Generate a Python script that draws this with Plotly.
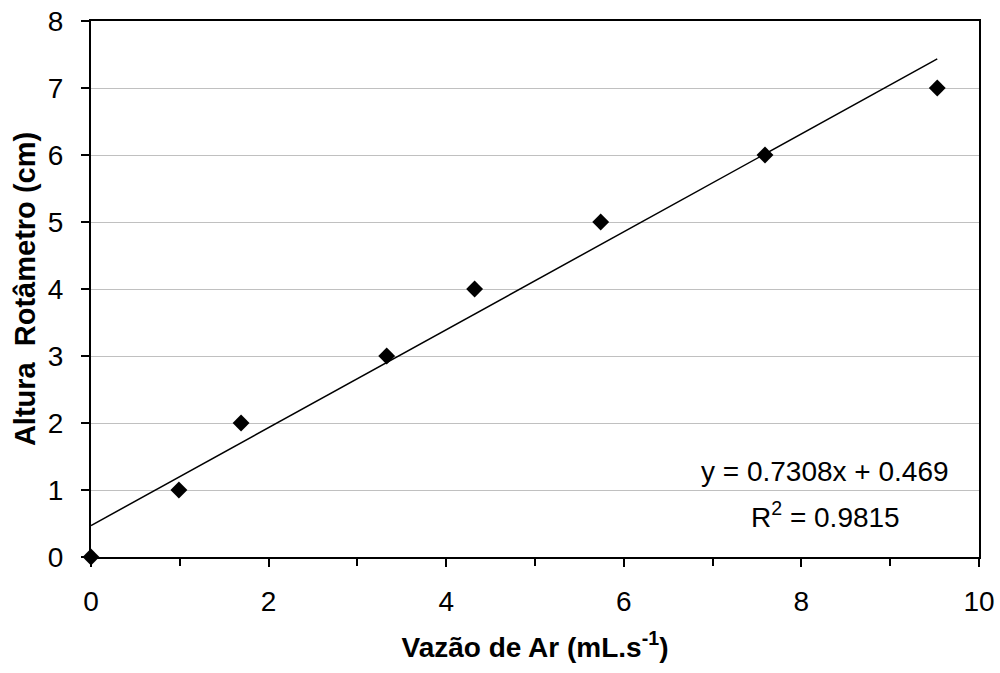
import plotly.graph_objects as go

vazao = [0.0, 0.99, 1.69, 3.33, 4.32, 5.74, 7.59, 9.53]
altura = [0, 1, 2, 3, 4, 5, 6, 7]
slope = 0.7308
intercept = 0.469
eq_text = "y = 0.7308x + 0.469"
r2_text = "R<sup>2</sup> = 0.9815"
x_ticks = [0, 2, 4, 6, 8, 10]
y_ticks = [0, 1, 2, 3, 4, 5, 6, 7, 8]

FONT = "Liberation Sans, Arial, sans-serif"
FS = 28

trend_x = [0, max(vazao)]
trend_y = [slope * v + intercept for v in trend_x]

fig = go.Figure()
fig.add_trace(go.Scatter(x=trend_x, y=trend_y, mode="lines",
                         line=dict(color="black", width=1.5), showlegend=False,
                         cliponaxis=False))
fig.add_trace(go.Scatter(x=vazao, y=altura, mode="markers",
                         marker=dict(symbol="diamond", size=13, color="black"),
                         showlegend=False, cliponaxis=False))

fig.add_annotation(x=8.27, y=1.27, xref="x", yref="y", text=eq_text, showarrow=False,
                   font=dict(family=FONT, size=FS, color="black"), xanchor="center", yanchor="middle")
fig.add_annotation(x=8.27, y=0.63, xref="x", yref="y", text=r2_text, showarrow=False,
                   font=dict(family=FONT, size=FS, color="black"), xanchor="center", yanchor="middle")

fig.update_layout(
    width=1000, height=673,
    margin=dict(l=91, r=21, t=21, b=116),
    paper_bgcolor="white", plot_bgcolor="white",
    font=dict(family=FONT, color="black"),
)
fig.update_xaxes(range=[0, 10], tickvals=x_ticks, showgrid=False, zeroline=False,
                 showline=True, linecolor="black", linewidth=2, mirror=True,
                 ticks="outside", ticklen=8, tickwidth=1.5, tickcolor="black",
                 tickfont=dict(size=FS, family=FONT), ticklabelstandoff=10, automargin=False,
                 minor=dict(dtick=1, ticks="outside", ticklen=7, tickwidth=1.5, tickcolor="black", showgrid=False),
                 title=dict(text="<b>Vazão de Ar (mL.s<sup>-1</sup>)</b>", font=dict(size=FS, family=FONT), standoff=22))
fig.update_yaxes(range=[0, 8], tickvals=y_ticks, showgrid=True, gridcolor="#c0c0c0", gridwidth=1,
                 zeroline=False, showline=True, linecolor="black", linewidth=2, mirror=True,
                 ticks="outside", ticklen=8, tickwidth=1.5, tickcolor="black",
                 tickfont=dict(size=FS, family=FONT), ticklabelstandoff=12, automargin=False,
                 title=dict(text="<b>Altura\u00a0 Rotâmetro (cm)</b>", font=dict(size=29, family=FONT), standoff=4))

fig.write_html("out.html", config={"displayModeBar": False},
               post_script="document.body.style.margin='0';document.body.style.overflow='hidden';")
